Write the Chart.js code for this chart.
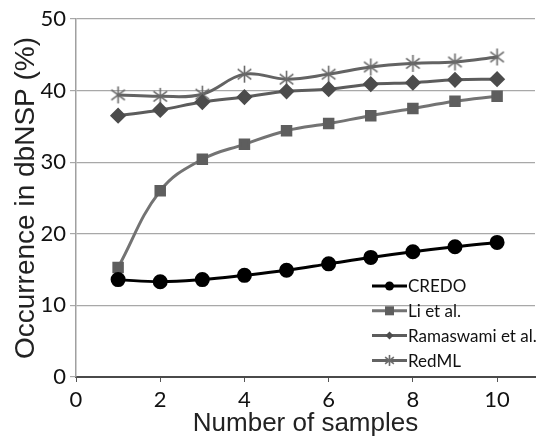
<!DOCTYPE html>
<html>
<head>
<meta charset="utf-8">
<script src="https://cdn.jsdelivr.net/npm/chart.js@4.4.1/dist/chart.umd.min.js"></script>
<style>
  html, body { margin: 0; padding: 0; background: #fff; }
  #wrap { width: 547px; height: 441px; position: relative; }
</style>
</head>
<body>
<div id="wrap"><canvas id="trendsChart"></canvas></div>
<script>
// values
var samples = [1, 2, 3, 4, 5, 6, 7, 8, 9, 10];
var credo = [13.6, 13.3, 13.6, 14.2, 14.9, 15.8, 16.7, 17.5, 18.2, 18.8];
var liEtAl = [15.3, 26.0, 30.4, 32.5, 34.4, 35.4, 36.5, 37.5, 38.5, 39.2];
var ramaswami = [36.5, 37.3, 38.4, 39.1, 39.9, 40.2, 40.9, 41.1, 41.5, 41.6];
var redml = [39.4, 39.2, 39.5, 42.3, 41.6, 42.3, 43.3, 43.8, 44.0, 44.7];
var seriesNames = ['CREDO', 'Li et al.', 'Ramaswami et al.', 'RedML'];
var xTicks = [0, 2, 4, 6, 8, 10];
var yTicks = [0, 10, 20, 30, 40, 50];

var font = 'Lato, "Liberation Sans", sans-serif';
var titleFont = '"Liberation Sans", Arial, sans-serif';

// Excel-like asterisk marker (vertical line plus an X)
function makeStar(size, color) {
    var c = document.createElement('canvas');
    c.width = size; c.height = size;
    var g = c.getContext('2d');
    var m = size / 2, r = size / 2 - 1;
    g.strokeStyle = color;
    g.lineWidth = 1.6;
    g.beginPath();
    g.moveTo(m, m - r); g.lineTo(m, m + r);
    var d = r * 0.8;
    g.moveTo(m - d, m - d * 0.75); g.lineTo(m + d, m + d * 0.75);
    g.moveTo(m - d, m + d * 0.75); g.lineTo(m + d, m - d * 0.75);
    g.stroke();
    return c;
}
var starBig = makeStar(19, '#6a6a6a');
var starSmall = makeStar(13, '#6a6a6a');

function toPoints(ys) {
    return samples.map(function (x, i) { return { x: x, y: ys[i] }; });
}

// legend drawn inside the plot area, bottom right
var insideLegend = {
    id: 'insideLegend',
    afterDatasetsDraw: function (chart) {
        var ctx = chart.ctx;
        var x0 = 372, x1 = 407, y0 = 286, step = 24.8;
        ctx.save();
        chart.data.datasets.forEach(function (ds, i) {
            var y = y0 + i * step;
            ctx.strokeStyle = ds.borderColor;
            ctx.lineWidth = ds.borderWidth;
            ctx.beginPath();
            ctx.moveTo(x0, y); ctx.lineTo(x1, y);
            ctx.stroke();
            var cx = (x0 + x1) / 2;
            ctx.fillStyle = ds.pointBackgroundColor;
            if (ds.pointStyle === 'circle') {
                ctx.beginPath(); ctx.arc(cx, y, 4.5, 0, Math.PI * 2); ctx.fill();
            } else if (ds.pointStyle === 'rect') {
                ctx.fillRect(cx - 4.5, y - 4.5, 9, 9);
            } else if (ds.pointStyle === 'rectRot') {
                ctx.beginPath();
                ctx.moveTo(cx, y - 4); ctx.lineTo(cx + 4, y); ctx.lineTo(cx, y + 4); ctx.lineTo(cx - 4, y);
                ctx.closePath(); ctx.fill();
            } else {
                ctx.drawImage(starSmall, cx - 6.5, y - 6.5);
            }
            ctx.fillStyle = '#111';
            ctx.font = '17px ' + font;
            ctx.textBaseline = 'middle';
            ctx.textAlign = 'left';
            ctx.fillText(ds.label, x1 + 1, y + 1);
        });
        ctx.restore();
    }
};

var ctx = document.getElementById('trendsChart').getContext('2d');
var trendsChart = new Chart(ctx, {
    type: 'line',
    data: {
        datasets: [{
            label: seriesNames[0],
            data: toPoints(credo),
            borderColor: '#000000',
            borderWidth: 3,
            pointStyle: 'circle',
            pointRadius: 6,
            pointBackgroundColor: '#000000',
            pointBorderColor: '#000000',
            tension: 0.4
        }, {
            label: seriesNames[1],
            data: toPoints(liEtAl),
            borderColor: '#737373',
            borderWidth: 3,
            pointStyle: 'rect',
            pointRadius: 6,
            pointBackgroundColor: '#5e5e5e',
            pointBorderColor: '#5e5e5e',
            tension: 0.4
        }, {
            label: seriesNames[2],
            data: toPoints(ramaswami),
            borderColor: '#5c5c5c',
            borderWidth: 3,
            pointStyle: 'rectRot',
            pointRadius: 6,
            pointBackgroundColor: '#4c4c4c',
            pointBorderColor: '#4c4c4c',
            tension: 0.4
        }, {
            label: seriesNames[3],
            data: toPoints(redml),
            borderColor: '#636363',
            borderWidth: 3,
            pointStyle: starBig,
            pointRadius: 9,
            pointBackgroundColor: '#6a6a6a',
            pointBorderColor: '#6a6a6a',
            tension: 0.4
        }]
    },
    options: {
        responsive: true,
        maintainAspectRatio: false,
        animation: false,
        layout: { padding: { top: 19, right: 0, left: 0, bottom: 0 } },
        plugins: {
            legend: { display: false },
            tooltip: { enabled: false }
        },
        scales: {
            x: {
                type: 'linear',
                min: 0,
                max: 10.9,
                afterBuildTicks: function (scale) {
                    scale.ticks = xTicks.map(function (v) { return { value: v }; });
                },
                afterFit: function (scale) { scale.height = 64; },
                grid: { drawOnChartArea: false, drawTicks: true, tickLength: 5, color: '#555', lineWidth: 1 },
                border: { color: '#4a4a4a', width: 2 },
                ticks: { color: '#111', font: { family: font, size: 22 }, padding: 5, maxRotation: 0 },
                title: { display: true, text: 'Number of samples', color: '#222', font: { family: titleFont, size: 26 }, padding: { top: 0, bottom: 2 } }
            },
            y: {
                min: 0,
                max: 50,
                afterBuildTicks: function (scale) {
                    scale.ticks = yTicks.map(function (v) { return { value: v }; });
                },
                afterFit: function (scale) { scale.width = 76; },
                grid: { color: '#a8a8a8', lineWidth: 1.2, tickLength: 6 },
                border: { color: '#a0a0a0', width: 1.5 },
                ticks: { color: '#111', font: { family: font, size: 22 }, padding: 4 },
                title: { display: true, text: 'Occurrence in dbNSP (%)', color: '#222', font: { family: titleFont, size: 28 }, padding: { top: 9, bottom: 0 } }
            }
        }
    },
    plugins: [insideLegend]
});
</script>
</body>
</html>
